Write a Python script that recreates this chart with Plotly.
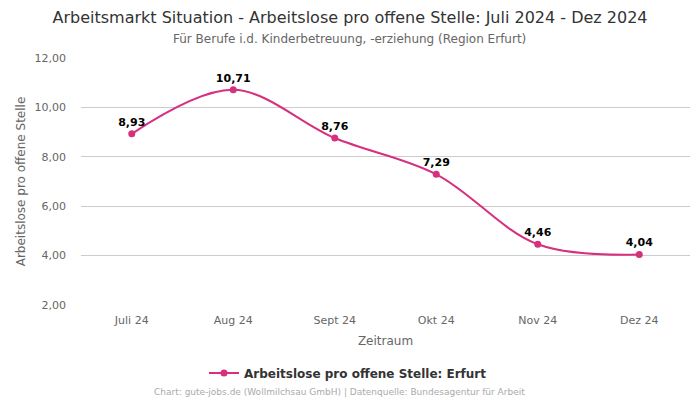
import plotly.graph_objects as go

months = ["Juli 24", "Aug 24", "Sept 24", "Okt 24", "Nov 24", "Dez 24"]
values = [8.93, 10.71, 8.76, 7.29, 4.46, 4.04]
labels = ["8,93", "10,71", "8,76", "7,29", "4,46", "4,04"]
series_name = "Arbeitslose pro offene Stelle: Erfurt"

color = "#d6307f"
font = "DejaVu Sans"

# the page body has an 8px margin; work in page pixels and convert
OFF = 8
FW, FH = 700 - OFF, 400 - OFF
L, R, T, B = 81 - OFF, 690 - OFF, 58 - OFF, 305 - OFF
W, H = R - L, B - T

def px_x(x):
    return (x - OFF - L) / W

def px_y(y):
    return (B - (y - OFF)) / H

fig = go.Figure()
fig.add_trace(go.Scatter(
    x=months, y=values, mode="lines+markers+text",
    name=series_name,
    line=dict(color=color, width=2, shape="spline", smoothing=1.0),
    marker=dict(color=color, size=7),
    text=labels, textposition="top center",
    textfont=dict(family=font, size=11, color="#000000", weight="bold"),
))

fig.update_layout(
    width=FW, height=FH,
    margin=dict(l=L, r=FW - R, t=T, b=FH - B, autoexpand=False),
    paper_bgcolor="white", plot_bgcolor="white",
    font=dict(family=font, color="#666666", size=11),
    separators=",.",
    title=dict(
        text="Arbeitsmarkt Situation - Arbeitslose pro offene Stelle: Juli 2024 - Dez 2024",
        x=(350 - OFF) / FW, xref="container", xanchor="center",
        y=1 - (17 - OFF) / FH, yref="container", yanchor="middle",
        font=dict(family=font, size=16, color="#333333"),
    ),
    showlegend=True,
    legend=dict(orientation="h", x=px_x(348), xanchor="center", y=px_y(373), yanchor="middle",
                itemwidth=30,
                font=dict(family=font, size=12, color="#333333", weight="bold")),
    xaxis=dict(
        title=dict(text="Zeitraum", font=dict(size=12, color="#666666"), standoff=10),
        showgrid=False, showline=False, ticks="", zeroline=False, automargin=False,
        range=[-0.5, 5.5], ticklabelstandoff=7,
        tickfont=dict(size=11, color="#666666"),
    ),
    yaxis=dict(
        title=dict(text="Arbeitslose pro offene Stelle", font=dict(size=12, color="#666666"), standoff=6),
        range=[2, 12], dtick=2, tick0=2, tickformat=".2f", automargin=False,
        showgrid=True, gridcolor="#cccccc", gridwidth=1, zeroline=False, showline=False,
        ticks="", ticklabelstandoff=14, tickfont=dict(size=11, color="#666666"),
    ),
    annotations=[
        dict(text="Für Berufe i.d. Kinderbetreuung, -erziehung (Region Erfurt)",
             x=px_x(349), xref="paper", y=px_y(39), yref="paper", yanchor="middle",
             showarrow=False, font=dict(family=font, size=12, color="#666666")),
        dict(text="Chart: gute-jobs.de (Wollmilchsau GmbH) | Datenquelle: Bundesagentur für Arbeit",
             x=px_x(339), xref="paper", y=px_y(392), yref="paper", yanchor="middle",
             showarrow=False, font=dict(family=font, size=9, color="#aaaaaa")),
    ],
)

fig.write_html("out.html")
